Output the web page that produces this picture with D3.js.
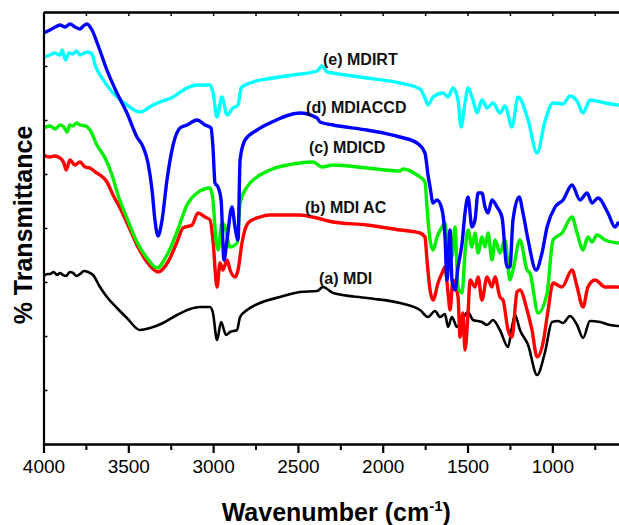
<!DOCTYPE html>
<html>
<head>
<meta charset="utf-8">
<script src="https://cdn.jsdelivr.net/npm/d3@7"></script>
<style>
  html, body { margin: 0; padding: 0; background: #fff; }
  svg { display: block; font-family: "Liberation Sans", Arial, Helvetica, sans-serif; }
</style>
</head>
<body>
<svg id="chart" width="619" height="525"></svg>
<script>
// FTIR spectra, transmittance in arbitrary offset units
const xTicks = [4000, 3500, 3000, 2500, 2000, 1500, 1000];

// (a) MDI
const mdiWn = [4000,3975,3962,3940,3920,3903,3885,3867,3845,3826,3805,3785,3760,3738,3708,3667,3626,3567,3508,3431,3372,3295,3213,3136,3077,3018,3001,2977,2953,2924,2900,2859,2841,2800,2724,2606,2488,2387,2352,2293,2093,1898,1780,1733,1692,1662,1633,1615,1592,1562,1532,1497,1468,1415,1385,1350,1309,1261,1238,1220,1191,1143,1090,1043,1002,966,937,896,854,819,778,719,660,613];
const mdiT  = [42,42.5,42.5,43,42.25,42.75,42.25,42,43,42.75,42,42.5,43.25,43,42.25,39.25,36.75,34,31.5,28.5,29,30.25,32.25,33.75,34.25,34.25,32.75,26,30.5,27.25,28,28.5,31.75,33.5,35.25,36.75,38,38.25,39.25,37.75,36.5,35.25,33.5,31.75,33.25,31.75,32.5,29.25,31.75,29.25,31,33,31,30.5,29.75,31,28.5,24.25,29.25,32.25,28.5,24.75,17.25,23,30.5,30.75,30.25,32,29.75,26.5,30.75,30.5,29.75,29.5];

// (b) MDI AC
const mdiAcWn = [4000,3962,3935,3903,3880,3867,3844,3815,3785,3755,3726,3695,3667,3626,3590,3549,3502,3449,3390,3325,3266,3213,3178,3124,3089,3048,3018,3001,2977,2959,2942,2918,2900,2871,2853,2830,2794,2724,2665,2488,2387,2293,2093,1898,1780,1751,1739,1721,1703,1674,1650,1633,1615,1603,1586,1556,1544,1527,1515,1497,1485,1456,1438,1415,1385,1356,1338,1309,1291,1261,1238,1208,1191,1149,1120,1090,1055,1025,996,943,884,854,819,790,748,689,613];
const mdiAcT  = [72.25,71.75,72,71.5,70.25,68.5,71,69.75,70.5,69.25,69,68,67.25,65.5,62.25,59,54.75,49.75,45.5,43,45.5,50.5,54,54.75,57.75,56.75,56,51,39.25,45.25,43.5,46,43.5,41.75,43.5,50.25,55.25,56.75,57.25,57.25,56.5,55.5,54.75,53.5,52.75,51.75,46,38.5,36,40.25,42.75,44.25,37.75,33.5,41,36.75,26.75,32.75,23.5,32.75,41,39.25,41.75,36,41.75,39.25,41.75,36.75,36,28.5,26.75,38,38.5,33.5,28.5,21.75,25.25,33.5,40.25,39.25,43.5,39.25,34.25,39.25,41,39.25,39.25];

// (c) MDICD
const mdiCdWn = [4000,3962,3930,3903,3880,3861,3845,3826,3805,3785,3750,3726,3685,3637,3596,3561,3508,3449,3390,3331,3272,3213,3154,3095,3018,3001,2983,2971,2948,2930,2900,2859,2841,2800,2741,2665,2488,2411,2358,2293,2093,1898,1880,1798,1751,1739,1721,1703,1680,1650,1633,1615,1592,1574,1556,1532,1515,1497,1474,1456,1438,1415,1397,1379,1356,1338,1309,1279,1250,1232,1191,1149,1132,1084,1031,996,943,884,854,819,790,766,737,689,613];
const mdiCdT  = [79,79.5,78.75,79.75,79.25,78,79.75,79.5,80.25,79.75,79.5,78.5,74.75,71.5,67.25,62.25,56.5,50.5,46.5,44,47.25,53,59.75,62.75,64,61,51,48.5,55.25,54.25,49.25,50.25,60.25,64.25,66.75,68.5,70.25,70.5,69.25,69.75,69,68.25,68.75,67.25,65.5,59.25,51,48.5,51.75,54.25,55.25,47.75,46.75,54.25,39.25,37.75,47.75,53.5,49.25,52.75,47.75,51.75,49.25,52.75,46,51,47.75,51,41,43.5,51,43.5,42.75,32.75,37.75,51,52.75,56.75,52.75,48.5,51.75,50.5,52.25,51,50.25];

// (d) MDIACCD
const mdiAcCdWn = [4000,3962,3930,3903,3873,3844,3814,3785,3765,3744,3714,3679,3626,3567,3508,3449,3413,3384,3360,3343,3325,3301,3272,3236,3195,3154,3095,3048,3012,3001,2989,2971,2953,2936,2918,2889,2871,2853,2841,2812,2741,2665,2488,2387,2370,2293,2093,1898,1798,1751,1733,1721,1703,1680,1650,1633,1621,1603,1592,1574,1556,1532,1515,1497,1474,1456,1438,1415,1397,1379,1356,1326,1297,1267,1250,1232,1196,1173,1143,1096,1061,1031,984,937,884,837,795,766,731,672,630,613];
const mdiAcCdT  = [102.75,103.5,104.25,104.75,104.25,105,104.25,103.75,104.5,105,103.5,99.75,93.5,87.75,82.75,76.75,74.25,70.25,63.5,56,52,56,66,74.75,79,79.75,81,79.75,79,74.25,65.25,64.25,61,46,51,59.25,54.25,51,71,76,78.5,80.25,82.75,81.5,80.5,79.75,78.5,76.75,75.25,72.75,67.25,64.25,60.25,61,58.5,51.75,41,53.5,41,38.5,44.25,50.25,57.75,61.75,54.25,56,62.75,62.75,59.25,57.75,61,59.25,56.75,44.25,44.25,56,61.75,57.75,51,43.5,47.75,54.25,59.25,61,64.75,61,62.75,60.25,61.5,57.75,54.25,55.25];

// (e) MDIRT
const mdiRtWn = [4000,3962,3935,3903,3890,3870,3850,3826,3805,3785,3760,3738,3714,3696,3655,3590,3508,3431,3354,3313,3236,3154,3095,3018,3001,2977,2948,2918,2883,2853,2835,2765,2647,2529,2387,2358,2328,2293,2093,1898,1780,1751,1733,1703,1645,1615,1586,1556,1538,1515,1497,1468,1444,1415,1385,1350,1309,1279,1238,1202,1143,1090,1043,996,937,896,854,819,778,689,613];
const mdiRtT  = [96.75,97.25,97.75,97.25,98.5,96,97.75,97.5,98.25,97.25,97.75,98,97.5,94.75,91.5,87.75,84.75,83,84.75,85.5,86.75,89,89.75,89.75,88,81.75,86.75,82.25,84,84.75,89,90.5,91.5,92.25,93.25,94.5,93,92.75,91.5,90.25,88.75,86.5,84.75,86.75,87.75,86.75,89,86,79.25,85.25,89,86,82.75,86,84,85.25,82.75,84.5,79.25,86.75,81,72.75,80.75,85.25,85,87,85.75,82.75,86,85.25,84.75];

const seriesNames = ["(a) MDI", "(b) MDI AC", "(c) MDICD", "(e) MDIRT", "(d) MDIACCD"];
const seriesWn = [mdiWn, mdiAcWn, mdiCdWn, mdiRtWn, mdiAcCdWn];
const seriesT  = [mdiT, mdiAcT, mdiCdT, mdiRtT, mdiAcCdT];
const seriesColors = ["#000000", "#ff0000", "#00ee00", "#00ffff", "#0000ff"];

// label anchors: [wavenumber, transmittance] of each label's left baseline
const labelWn = [2376, 2458, 2435, 2352, 2452];
const labelT  = [40, 57.75, 72.75, 94.75, 82.75];

const svg = d3.select("#chart");
const plotLeft = 43.5, plotRight = 619, plotTop = 12, plotBottom = 444;

const x = d3.scaleLinear().domain([4000, 607]).range([plotLeft, plotRight]);
const y = d3.scaleLinear().domain([0, 108]).range([plotBottom, plotTop]);

svg.append("defs").append("clipPath").attr("id", "plot-clip")
  .append("rect").attr("x", plotLeft).attr("y", plotTop)
  .attr("width", plotRight - plotLeft).attr("height", plotBottom - plotTop);

// spectra
const line = d3.line().x(d => x(d[0])).y(d => y(d[1])).curve(d3.curveMonotoneX);
const g = svg.append("g").attr("clip-path", "url(#plot-clip)");
seriesWn.forEach((wn, i) => {
  const pts = wn.map((w, k) => [w, seriesT[i][k]]);
  g.append("path")
    .datum(pts)
    .attr("d", line)
    .attr("fill", "none")
    .attr("stroke", seriesColors[i])
    .attr("stroke-width", i === 0 ? 2.6 : 3.4)
    .attr("stroke-linejoin", "round")
    .attr("stroke-linecap", "round");
});

// minor ticks every 250
const minorTicks = d3.range(3750, 600, -500);
const yTicks = d3.range(13.5, 108, 13.5);

// bottom axis
const xAxis = d3.axisBottom(x).tickValues(xTicks).tickSize(9).tickSizeOuter(0).tickPadding(6)
  .tickFormat(d3.format("d"));
const gx = svg.append("g").attr("transform", `translate(0,${plotBottom})`).call(xAxis);
gx.select(".domain").attr("stroke-width", 2.6);
gx.selectAll(".tick line").attr("stroke-width", 2.2);
gx.selectAll(".tick text").attr("font-size", 19).attr("fill", "#000")
  .style("font-family", "'Liberation Sans', Arial, sans-serif").attr("dy", "0.72em");
const xMinor = d3.axisBottom(x).tickValues(minorTicks).tickSize(6).tickFormat("");
const gxm = svg.append("g").attr("transform", `translate(0,${plotBottom})`).call(xMinor);
gxm.select(".domain").remove();
gxm.selectAll(".tick line").attr("stroke-width", 2);

// top axis with inward ticks
const topAxis = d3.axisBottom(x).tickValues(xTicks.concat(minorTicks)).tickSize(4).tickSizeOuter(0).tickFormat("");
const gt = svg.append("g").attr("transform", `translate(0,${plotTop})`).call(topAxis);
gt.select(".domain").attr("stroke-width", 2.4);
gt.selectAll(".tick line").attr("stroke-width", 1.5);

// left axis with inward ticks
const yAxis = d3.axisRight(y).tickValues(yTicks).tickSize(4).tickSizeOuter(0).tickFormat("");
const gy = svg.append("g").attr("transform", `translate(${plotLeft},0)`).call(yAxis);
gy.select(".domain").attr("stroke-width", 2.2);
gy.selectAll(".tick line").attr("stroke-width", 1.5);

// series labels
svg.append("g").selectAll("text")
  .data(seriesNames)
  .join("text")
  .attr("x", (d, i) => x(labelWn[i]))
  .attr("y", (d, i) => y(labelT[i]))
  .attr("font-size", 16)
  .attr("font-weight", "bold")
  .attr("fill", "#111")
  .text(d => d);

// axis titles
const xt = svg.append("text")
  .attr("x", (plotLeft + plotRight) / 2 + 5)
  .attr("y", 521)
  .attr("text-anchor", "middle")
  .attr("font-size", 25)
  .attr("font-weight", "bold")
  .attr("fill", "#000");
xt.append("tspan").text("Wavenumber (cm");
xt.append("tspan").attr("font-size", 15).attr("dy", -10).text("-1");
xt.append("tspan").attr("dy", 10).text(")");

svg.append("text")
  .attr("transform", "translate(32,225) rotate(-90)")
  .attr("text-anchor", "middle")
  .attr("font-size", 25)
  .attr("font-weight", "bold")
  .attr("fill", "#000")
  .text("% Transmittance");
</script>
</body>
</html>
